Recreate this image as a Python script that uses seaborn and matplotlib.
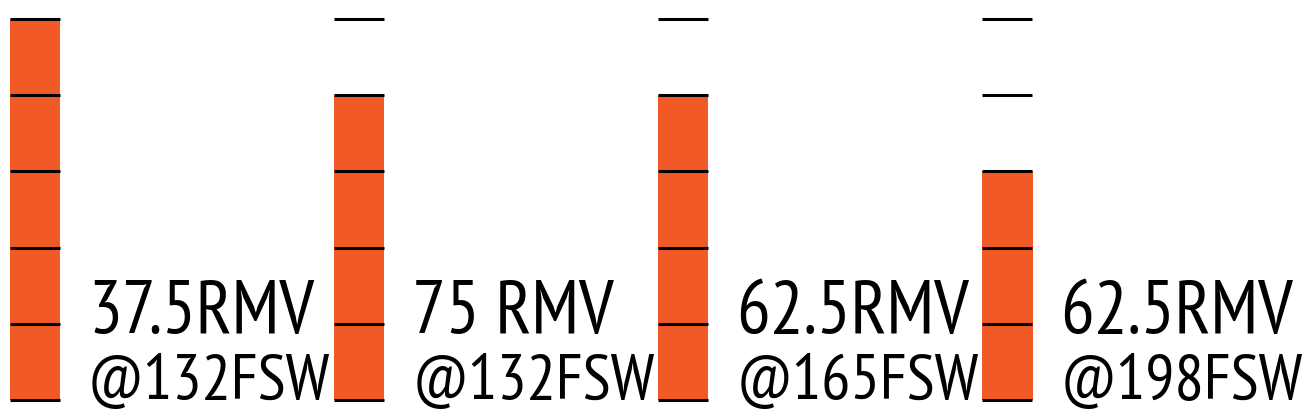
import matplotlib
matplotlib.use("Agg")
import matplotlib.pyplot as plt
import seaborn as sns
import pandas as pd

# ---- data ----
scenarios = ["A", "B", "C", "D"]
rmv_labels = ["37.5RMV", "75 RMV", "62.5RMV", "62.5RMV"]
depth_labels = ["@132FSW", "@132FSW", "@165FSW", "@198FSW"]
remaining_units = [5, 4, 4, 3]
gauge_marks = [0, 1, 2, 3, 4, 5]

ORANGE = "#F15A27"

sns.set_theme(style="white")
plt.rcParams["font.family"] = ["PT Sans Narrow", "DejaVu Sans"]

df = pd.DataFrame({"scenario": scenarios, "units": remaining_units})

W, H, DPI = 1310, 412, 100
fig = plt.figure(figsize=(W / DPI, H / DPI), dpi=DPI)
ax = fig.add_axes([0, 0, 1, 1])

spacing_px = (1007.5 - 35) / 3
bar_w = 50 / spacing_px
unit_px = (400 - 19) / 5

sns.barplot(data=df, x="scenario", y="units", color=ORANGE, width=bar_w,
            saturation=1, ax=ax, edgecolor="none", linewidth=0)

for i, v in enumerate(remaining_units):
    ax.hlines(gauge_marks, i - bar_w / 2, i + bar_w / 2, color="black",
              linewidth=2.2, zorder=5)
    xt = i + bar_w / 2 + 28 / spacing_px
    ax.text(xt, (400 - 333) / unit_px, rmv_labels[i],
            fontsize=54, ha="left", va="baseline", color="black")
    ax.text(xt, (400 - 399) / unit_px, depth_labels[i],
            fontsize=47, ha="left", va="baseline", color="black")

ax.set_xlim(-35 / spacing_px, 3 + (W - 1007.5) / spacing_px)
ax.set_ylim(-(H - 400) / unit_px, 5 + 19 / unit_px)
ax.axis("off")

fig.savefig("out.png", dpi=DPI, facecolor="white")
